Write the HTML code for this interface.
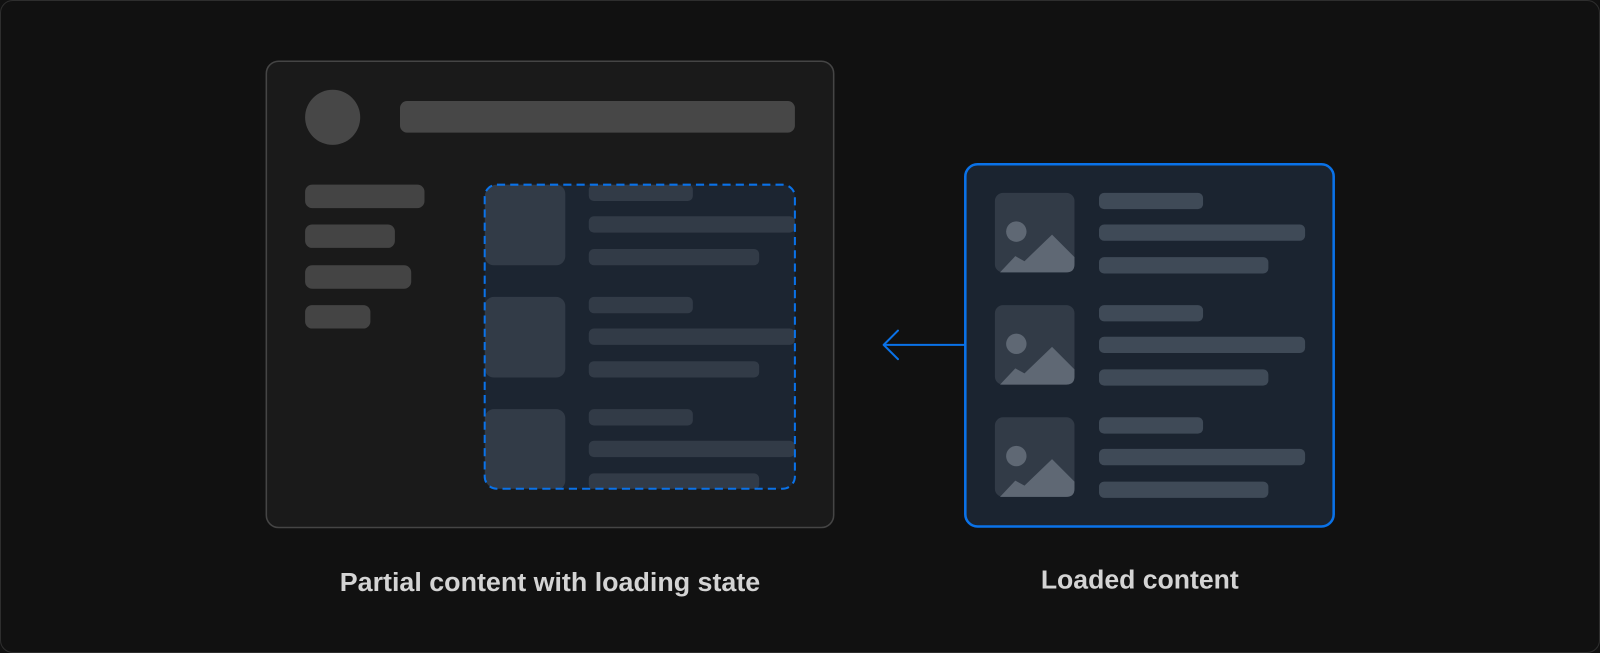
<!DOCTYPE html>
<html><head><meta charset="utf-8"><style>
html,body{margin:0;padding:0;background:#111;}
svg{display:block;}
</style></head><body>
<svg width="1600" height="653" viewBox="0 0 1568 640" preserveAspectRatio="none" xmlns="http://www.w3.org/2000/svg">
<defs>
<g id="img">
<rect x="0" y="0" width="78" height="78" rx="8" fill="#323b47"/>
<circle cx="21" cy="38" r="10" fill="#5f6874"/>
<path d="M5,78 L20,62 L29,67 L56,41 L78,63 L78,70 Q78,78 70,78 Z" fill="#5f6874"/>
</g>
<g id="skel">
<rect x="0" y="0" width="79" height="79" rx="9" fill="#323b47"/>
<rect x="102" y="0" width="102" height="16" rx="5" fill="#323b47"/>
<rect x="102" y="31" width="202" height="16" rx="5" fill="#323b47"/>
<rect x="102" y="63" width="167" height="16" rx="5" fill="#323b47"/>
</g>
<g id="row">
<use href="#img"/>
<rect x="102" y="0" width="102" height="16" rx="5" fill="#3f4a57"/>
<rect x="102" y="31" width="202" height="16" rx="5" fill="#3f4a57"/>
<rect x="102" y="63" width="166" height="16" rx="5" fill="#3f4a57"/>
</g>
<clipPath id="dc"><rect x="475" y="181" width="304" height="298" rx="12"/></clipPath>
</defs>
<rect x="0.5" y="0.5" width="1567" height="639" rx="12" fill="#111" stroke="#2e2e2e"/>
<rect x="261" y="60" width="556" height="457" rx="12" fill="#1a1a1a" stroke="#454545" stroke-width="1.5"/>
<circle cx="326" cy="115" r="27" fill="#474747"/>
<rect x="392" y="99" width="387" height="31" rx="7" fill="#474747"/>
<rect x="299" y="181" width="117" height="23" rx="7" fill="#444"/>
<rect x="299" y="220" width="88" height="23" rx="7" fill="#444"/>
<rect x="299" y="260" width="104" height="23" rx="7" fill="#444"/>
<rect x="299" y="299" width="64" height="23" rx="7" fill="#444"/>
<rect x="475" y="181" width="304" height="298" rx="12" fill="#1c2531"/>
<g clip-path="url(#dc)">
<use href="#skel" x="475" y="181"/>
<use href="#skel" x="475" y="291"/>
<use href="#skel" x="475" y="401"/>
</g>
<rect x="475" y="181" width="304" height="298" rx="12" fill="none" stroke="#0a72e8" stroke-width="2" stroke-dasharray="8,5"/>
<line x1="867" y1="338" x2="946" y2="338" stroke="#0a72e8" stroke-width="2"/>
<polyline points="880,324 866,338 880,352" fill="none" stroke="#0a72e8" stroke-width="2" stroke-linecap="round" stroke-linejoin="round"/>
<rect x="946" y="161" width="361" height="355" rx="12" fill="#1b2430" stroke="#0a72e8" stroke-width="2.5"/>
<use href="#row" x="975" y="189"/>
<use href="#row" x="975" y="299"/>
<use href="#row" x="975" y="409"/>
<text x="333" y="579" font-family="Liberation Sans, sans-serif" font-weight="bold" font-size="25" fill="#d4d4d4" textLength="412" lengthAdjust="spacingAndGlyphs">Partial content with loading state</text>
<text x="1020" y="577" font-family="Liberation Sans, sans-serif" font-weight="bold" font-size="25" fill="#d4d4d4" textLength="194" lengthAdjust="spacingAndGlyphs">Loaded content</text>
</svg>
</body></html>
